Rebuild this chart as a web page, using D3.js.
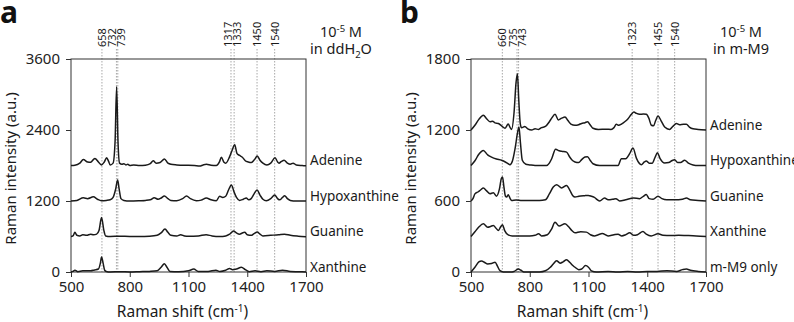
<!DOCTYPE html>
<html>
<head>
<meta charset="utf-8">
<script src="https://cdn.jsdelivr.net/npm/d3@7"></script>
<style>
  body { margin: 0; background: #fff; }
  svg { display: block; font-family: "Noto Sans", "Open Sans", sans-serif; }
</style>
</head>
<body>
<svg id="chart" width="794" height="322"></svg>
<script>
// ---- panel a : 10^-5 M in ddH2O ----
const namesA = ['Adenine', 'Hypoxanthine', 'Guanine', 'Xanthine'];
const offsetsA = [1800, 1200, 600, 0];
const peaksA = [658, 732, 739, 1317, 1333, 1450, 1540];
const yTicksA = [0, 1200, 2400, 3600];

const adenineA = [[500,0],[520,5],[545,40],[563,100],[585,60],[600,55],[622,120],[640,60],[655,10],[670,60],[682,130],[692,70],[700,10],[715,40],[725,400],[733,1330],[740,400],[748,40],[760,20],[770,30],[780,10],[790,20],[800,0],[820,10],[850,0],[880,5],[905,30],[920,80],[935,40],[955,50],[977,110],[995,40],[1010,20],[1040,10],[1070,5],[1100,5],[1130,0],[1157,-10],[1175,10],[1191,20],[1215,5],[1242,0],[1258,60],[1268,140],[1280,60],[1290,40],[1310,150],[1322,250],[1336,350],[1348,200],[1361,170],[1375,140],[1390,80],[1405,60],[1421,50],[1437,100],[1451,160],[1465,90],[1480,40],[1500,10],[1520,40],[1542,130],[1555,60],[1562,40],[1575,70],[1588,90],[1605,40],[1620,20],[1634,40],[1650,10],[1680,0],[1700,-5]];
const hypoxanthineA = [[500,0],[530,10],[563,55],[585,40],[614,70],[635,30],[655,5],[680,10],[700,20],[715,60],[728,200],[738,355],[746,200],[755,40],[770,10],[800,0],[850,5],[880,10],[905,20],[925,55],[945,30],[960,50],[977,85],[995,40],[1010,10],[1040,5],[1070,40],[1090,85],[1110,40],[1140,5],[1165,15],[1191,50],[1215,20],[1242,5],[1259,80],[1275,60],[1290,80],[1305,190],[1319,270],[1333,150],[1345,60],[1361,10],[1380,30],[1395,50],[1408,20],[1420,40],[1435,120],[1450,185],[1465,100],[1480,30],[1497,5],[1520,40],[1540,100],[1555,40],[1565,20],[1580,60],[1591,90],[1605,40],[1620,10],[1650,0],[1700,0]];
const guanineA = [[500,0],[510,10],[520,70],[530,20],[545,10],[560,30],[580,20],[600,40],[615,30],[631,40],[643,100],[656,320],[668,100],[677,10],[700,0],[750,5],[800,0],[850,0],[900,5],[940,20],[960,60],[980,125],[995,70],[1010,20],[1040,10],[1060,30],[1080,10],[1100,5],[1150,10],[1190,30],[1220,10],[1260,0],[1290,10],[1310,40],[1330,95],[1345,60],[1361,40],[1375,60],[1387,70],[1400,30],[1420,20],[1435,50],[1451,75],[1465,40],[1480,10],[1520,20],[1560,30],[1590,40],[1620,20],[1660,5],[1700,-5]];
const xanthineA = [[500,0],[510,10],[520,30],[535,5],[560,20],[600,20],[620,35],[640,50],[650,150],[656,255],[664,150],[672,30],[680,10],[700,0],[750,5],[800,0],[850,5],[900,10],[940,20],[960,80],[977,140],[990,80],[1005,10],[1050,5],[1100,20],[1127,50],[1150,10],[1200,10],[1240,30],[1260,10],[1290,30],[1310,60],[1325,40],[1345,50],[1370,80],[1390,40],[1410,5],[1440,20],[1470,5],[1500,20],[1540,10],[1580,30],[1620,10],[1660,5],[1700,0]];

// ---- panel b : 10^-5 M in m-M9 ----
const namesB = ['Adenine', 'Hypoxanthine', 'Guanine', 'Xanthine', 'm-M9 only'];
const offsetsB = [1200, 900, 600, 300, 0];
const peaksB = [660, 735, 743, 1323, 1455, 1540];
const yTicksB = [0, 600, 1200, 1800];

const adenineB = [[500,0],[520,40],[540,90],[563,125],[580,95],[597,70],[610,75],[623,60],[640,55],[656,35],[674,15],[690,50],[700,20],[707,5],[720,150],[730,400],[737,475],[744,250],[752,50],[758,20],[775,30],[790,10],[810,0],[827,10],[845,5],[860,20],[880,30],[900,70],[912,100],[929,133],[946,85],[963,100],[980,110],[995,80],[1010,50],[1031,40],[1050,45],[1065,55],[1082,62],[1095,70],[1110,40],[1123,15],[1150,5],[1191,6],[1215,5],[1230,20],[1242,48],[1255,40],[1268,50],[1285,70],[1302,96],[1318,130],[1332,152],[1345,140],[1361,133],[1380,135],[1395,133],[1408,100],[1421,40],[1432,35],[1443,80],[1455,118],[1470,80],[1489,25],[1514,5],[1530,30],[1549,54],[1565,45],[1585,48],[1600,48],[1615,25],[1634,10],[1660,5],[1700,0]];
const hypoxanthineB = [[500,0],[520,40],[540,95],[563,127],[585,90],[605,71],[630,55],[656,44],[680,25],[699,7],[712,40],[725,142],[738,280],[745,325],[752,200],[762,44],[780,10],[800,5],[827,0],[860,0],[886,0],[900,20],[912,57],[932,137],[950,125],[963,120],[988,113],[1005,70],[1020,40],[1031,30],[1050,25],[1065,50],[1082,72],[1095,75],[1110,40],[1123,15],[1157,0],[1200,0],[1251,0],[1268,58],[1290,58],[1310,100],[1327,148],[1345,60],[1370,7],[1385,30],[1395,38],[1410,20],[1425,20],[1440,70],[1452,108],[1465,60],[1489,21],[1510,25],[1525,40],[1540,49],[1555,25],[1570,25],[1591,44],[1610,20],[1634,5],[1660,0],[1700,0]];
const guanineB = [[500,0],[510,20],[520,60],[535,76],[550,95],[563,110],[580,85],[597,62],[614,70],[630,41],[645,100],[655,190],[661,202],[668,120],[676,40],[682,33],[690,53],[700,20],[707,5],[730,8],[760,5],[800,5],[850,5],[880,10],[900,60],[920,118],[937,138],[963,110],[988,132],[1005,90],[1020,45],[1031,33],[1050,40],[1080,45],[1099,47],[1115,40],[1130,30],[1157,0],[1182,25],[1200,10],[1225,15],[1240,20],[1259,0],[1290,10],[1330,25],[1360,20],[1380,40],[1395,55],[1410,20],[1430,15],[1455,41],[1475,20],[1500,10],[1540,10],[1580,15],[1600,25],[1620,10],[1660,5],[1700,0]];
const xanthineB = [[500,0],[520,40],[540,80],[563,107],[585,79],[600,85],[614,93],[628,70],[640,51],[651,80],[661,99],[672,50],[690,14],[710,5],[750,5],[800,5],[827,10],[845,23],[860,5],[890,15],[912,65],[929,121],[950,88],[980,107],[1000,80],[1015,50],[1031,31],[1060,40],[1089,37],[1110,15],[1130,5],[1150,15],[1170,25],[1200,5],[1230,15],[1251,20],[1270,5],[1290,15],[1310,31],[1330,10],[1350,15],[1378,42],[1395,20],[1420,5],[1455,23],[1480,10],[1520,8],[1560,10],[1600,8],[1650,5],[1700,0]];
const mediumB = [[500,0],[520,40],[540,85],[554,93],[570,80],[585,68],[605,72],[623,82],[635,50],[648,11],[665,0],[700,0],[720,5],[742,25],[755,15],[770,0],[800,0],[850,0],[880,10],[905,40],[920,68],[937,96],[955,75],[970,85],[988,104],[1005,80],[1020,55],[1031,40],[1050,20],[1065,25],[1085,54],[1100,40],[1115,10],[1140,0],[1200,5],[1250,0],[1300,5],[1350,0],[1400,5],[1450,5],[1500,10],[1550,5],[1580,20],[1600,25],[1620,15],[1660,5],[1700,0]];

const xTicks = [500, 800, 1100, 1400, 1700];

const svg = d3.select('#chart');
const ink = '#1a1a1a';

// spread peak labels apart so close peaks don't overlap
function spread(xs, gap) {
    let groups = xs.map(x => ({ xs: [x], c: x }));
    let merged = true;
    while (merged) {
        merged = false;
        for (let i = 0; i < groups.length - 1; i++) {
            let a = groups[i], b = groups[i+1];
            let aEnd = a.c + (a.xs.length - 1) * gap / 2;
            let bStart = b.c - (b.xs.length - 1) * gap / 2;
            if (bStart - aEnd < gap) {
                let all = a.xs.concat(b.xs);
                groups.splice(i, 2, { xs: all, c: d3.mean(all) });
                merged = true;
                break;
            }
        }
    }
    let out = [];
    groups.forEach(g => g.xs.forEach((x, i) => out.push(g.c + (i - (g.xs.length - 1) / 2) * gap)));
    return out;
}

function drawPanel(cfg) {
    let g = svg.append('g').attr('transform', `translate(${cfg.left},0)`);
    let top = 59, bottom = 272, w = 235;

    let x = d3.scaleLinear().domain([500, 1700]).range([0, w]);
    let y = d3.scaleLinear().domain([0, cfg.yMax]).range([bottom, top]);

    // dotted peak guides + labels
    let labelX = spread(cfg.peaks.map(p => x(p)), 9);
    cfg.peaks.forEach((p, i) => {
        g.append('line')
            .attr('x1', x(p)).attr('x2', x(p))
            .attr('y1', 49).attr('y2', bottom)
            .attr('stroke', '#a8a8a8')
            .attr('stroke-width', 1)
            .attr('stroke-dasharray', '1.5,1.5');
        g.append('text')
            .attr('transform', `translate(${labelX[i]},47)rotate(-90)`)
            .attr('dy', '0.35em')
            .attr('font-size', 11)
            .attr('fill', ink)
            .text(p);
    });

    // axes
    let yAxis = g.append('g')
        .call(d3.axisLeft(y).tickValues(cfg.yTicks).tickFormat(d3.format('d')).tickSize(5).tickPadding(6));
    let xAxis = g.append('g')
        .attr('transform', `translate(0,${bottom})`)
        .call(d3.axisBottom(x).tickValues(xTicks).tickFormat(d3.format('d')).tickSize(5).tickPadding(4));
    [yAxis, xAxis].forEach(a => {
        a.select('.domain').remove();
        a.selectAll('line').attr('stroke', '#333');
        a.selectAll('text').attr('font-size', 15).attr('fill', '#222').style('font-family', '"Noto Sans", sans-serif');
    });

    // frame
    g.append('rect')
        .attr('x', 0).attr('y', top)
        .attr('width', w).attr('height', bottom - top)
        .attr('fill', 'none')
        .attr('stroke', '#333')
        .attr('stroke-width', 1);

    // spectra
    let line = d3.line()
        .x(d => x(d[0]))
        .curve(d3.curveMonotoneX);
    cfg.spectra.forEach((s, i) => {
        let off = cfg.offsets[i];
        g.append('path')
            .attr('d', line.y(d => y(d[1] + off))(s))
            .attr('fill', 'none')
            .attr('stroke', ink)
            .attr('stroke-width', 1.5)
            .attr('stroke-linejoin', 'round');
        g.append('text')
            .attr('x', w + 4)
            .attr('y', y(off) - 5)
            .attr('dy', '0.35em')
            .attr('font-size', 13.5)
            .attr('fill', ink)
            .text(cfg.names[i]);
    });

    // axis titles
    g.append('text')
        .attr('transform', `translate(${-55},${(top + bottom) / 2 + 3})rotate(-90)`)
        .attr('text-anchor', 'middle')
        .attr('font-size', 15)
        .attr('fill', ink)
        .text('Raman intensity (a.u.)');
    let xt = g.append('text')
        .attr('x', w / 2 - 6).attr('y', 317)
        .attr('text-anchor', 'middle')
        .attr('font-size', 15.5)
        .attr('fill', ink);
    xt.append('tspan').text('Raman shift (cm');
    xt.append('tspan').attr('font-size', 10).attr('dy', -5).text('-1');
    xt.append('tspan').attr('dy', 5).text(')');

    // concentration note
    let n1 = g.append('text')
        .attr('x', w + 35).attr('y', 37)
        .attr('text-anchor', 'middle')
        .attr('font-size', 14.5)
        .attr('fill', ink);
    n1.append('tspan').text('10');
    n1.append('tspan').attr('font-size', 9.5).attr('dy', -5).text('-5');
    n1.append('tspan').attr('dy', 5).text(' M');
    let n2 = g.append('text')
        .attr('x', w + 35).attr('y', 54)
        .attr('text-anchor', 'middle')
        .attr('font-size', 14.5)
        .attr('fill', ink);
    cfg.medium.forEach(part => {
        n2.append('tspan')
            .attr('font-size', part.sub ? 9.5 : 14.5)
            .attr('dy', part.sub ? 4 : (part.after ? -4 : 0))
            .text(part.t);
    });

    // panel letter
    svg.append('text')
        .attr('x', cfg.left - 71).attr('y', 23)
        .attr('font-size', 30)
        .attr('font-weight', 'bold')
        .attr('fill', '#111')
        .text(cfg.letter);
}

drawPanel({
    left: 71, letter: 'a', yMax: 3600, yTicks: yTicksA,
    names: namesA, offsets: offsetsA, peaks: peaksA,
    spectra: [adenineA, hypoxanthineA, guanineA, xanthineA],
    medium: [{ t: 'in ddH' }, { t: '2', sub: true }, { t: 'O', after: true }]
});
drawPanel({
    left: 471, letter: 'b', yMax: 1800, yTicks: yTicksB,
    names: namesB, offsets: offsetsB, peaks: peaksB,
    spectra: [adenineB, hypoxanthineB, guanineB, xanthineB, mediumB],
    medium: [{ t: 'in m-M9' }]
});
</script>
</body>
</html>
